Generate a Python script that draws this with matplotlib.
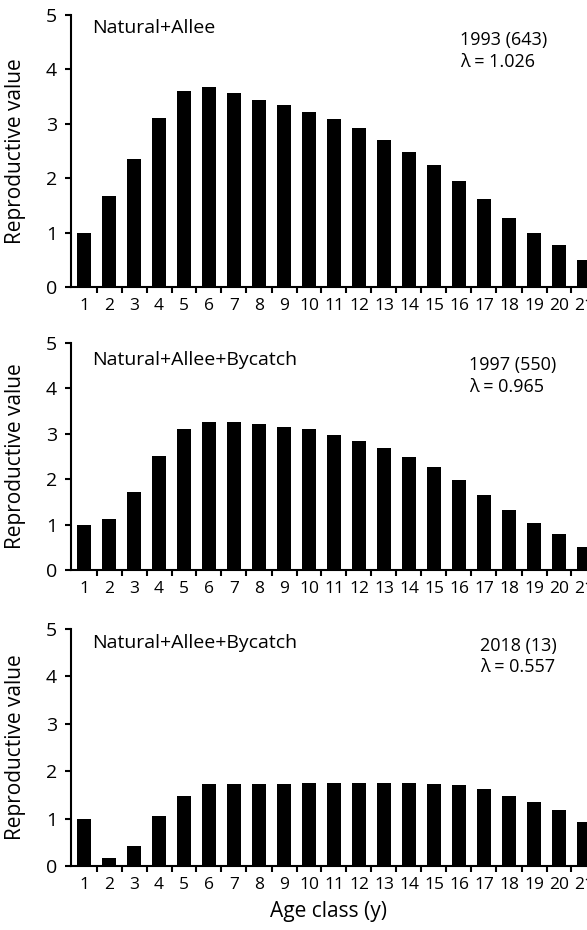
import numpy as np
import matplotlib.pyplot as plt

plt.rcParams['font.family'] = ['Open Sans', 'DejaVu Sans']

# data
age = np.arange(1, 22)
rv_1993 = [1.00, 1.67, 2.35, 3.11, 3.61, 3.67, 3.57, 3.44, 3.35, 3.22, 3.09,
           2.92, 2.71, 2.49, 2.24, 1.95, 1.62, 1.27, 1.00, 0.77, 0.50]
rv_1997 = [1.00, 1.12, 1.72, 2.52, 3.10, 3.27, 3.27, 3.21, 3.16, 3.10, 2.98,
           2.85, 2.68, 2.48, 2.26, 1.99, 1.66, 1.32, 1.04, 0.79, 0.51]
rv_2018 = [1.00, 0.17, 0.42, 1.05, 1.48, 1.73, 1.74, 1.73, 1.74, 1.76, 1.76,
           1.76, 1.76, 1.76, 1.74, 1.71, 1.62, 1.48, 1.34, 1.19, 0.92]

scenarios = ["Natural+Allee", "Natural+Allee+Bycatch", "Natural+Allee+Bycatch"]
years = ["1993 (643)", "1997 (550)", "2018 (13)"]
lambdas = ["\u03bb = 1.026", "\u03bb = 0.965", "\u03bb = 0.557"]
series = [rv_1993, rv_1997, rv_2018]

W, H = 587, 930
fig = plt.figure(figsize=(W / 100, H / 100), dpi=100)

# axes boxes in pixels: (top, bottom)
boxes = [(15, 287), (343, 570), (629, 866)]
left_px = 71
# label positions in axes fraction
name_y = [0.952, 0.925, 0.941]
year_xy = [(0.754, 0.908), (0.771, 0.903), (0.793, 0.928)]
lam_y = [0.827, 0.806, 0.840]

for i, (top, bot) in enumerate(boxes):
    ax = fig.add_axes([left_px / W, (H - bot) / H, (W - left_px) / W, (bot - top) / H])
    ax.bar(age, series[i], width=0.58, color='black')
    ax.set_xlim(0.48, 21.12)
    ax.set_ylim(0, 5)
    ax.spines['top'].set_visible(False)
    ax.spines['right'].set_visible(False)
    ax.spines['left'].set_linewidth(1.5)
    ax.spines['bottom'].set_linewidth(1.5)

    ax.set_xticks(age)
    ax.set_xticklabels([str(a) for a in age])
    ax.set_xticks(np.arange(1.5, 21, 1), minor=True)
    ax.tick_params(axis='x', which='major', length=0, pad=8, labelsize=12.5)
    ax.tick_params(axis='x', which='minor', length=4, width=1.5, direction='out')
    ax.set_yticks(range(6))
    ax.tick_params(axis='y', length=4, width=1.5, labelsize=14, pad=6)
    ax.set_ylabel("Reproductive value", fontsize=15)
    ax.yaxis.set_label_coords(-0.088, 0.5)

    ax.text(0.041, name_y[i], scenarios[i], transform=ax.transAxes,
            fontsize=14, va='center', ha='left')
    ax.text(year_xy[i][0], year_xy[i][1], years[i], transform=ax.transAxes,
            fontsize=13, va='center', ha='left')
    ax.text(year_xy[i][0], lam_y[i], lambdas[i], transform=ax.transAxes,
            fontsize=13, va='center', ha='left')

    if i == 2:
        ax.set_xlabel("Age class (y)", fontsize=15, labelpad=6)

fig.savefig("out.png", dpi=100)
